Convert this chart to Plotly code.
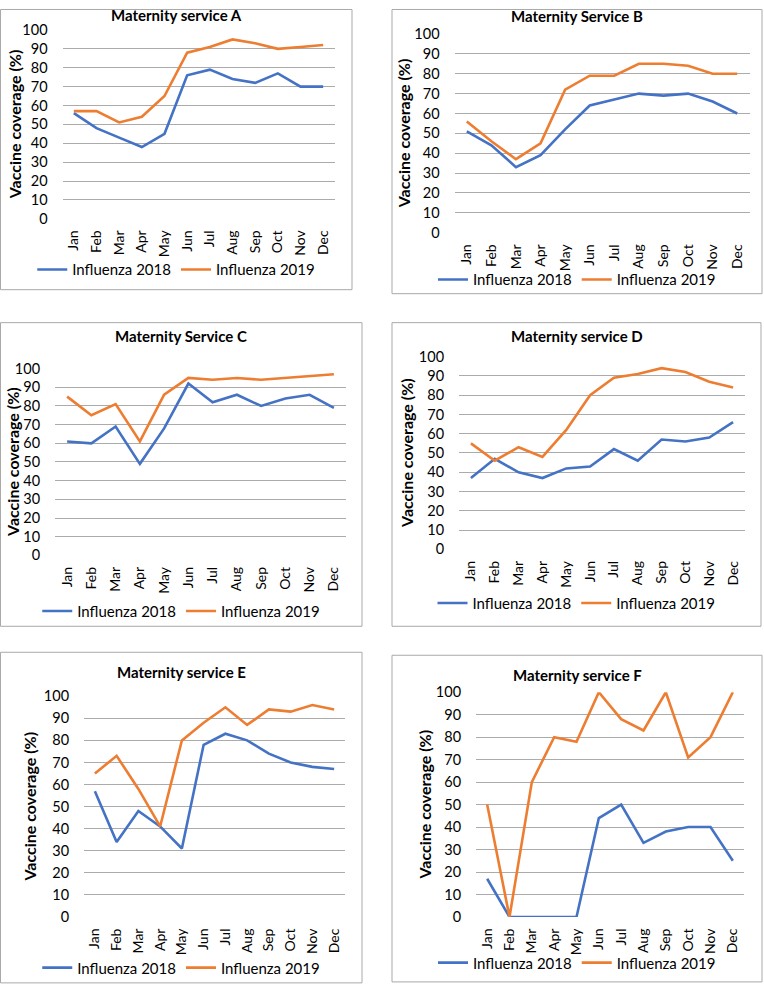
import plotly.graph_objects as go

W, H = 764, 993

months = ["Jan", "Feb", "Mar", "Apr", "May", "Jun", "Jul", "Aug", "Sep", "Oct", "Nov", "Dec"]
y_ticks = [0, 10, 20, 30, 40, 50, 60, 70, 80, 90, 100]
series_names = ["Influenza 2018", "Influenza 2019"]

titles = ["Maternity service A", "Maternity Service B", "Maternity Service C",
          "Maternity service D", "Maternity service E", "Maternity service F"]

a_2018 = [56, 48, 43, 38, 45, 76, 79, 74, 72, 77, 70, 70]
a_2019 = [57, 57, 51, 54, 65, 88, 91, 95, 93, 90, 91, 92]
b_2018 = [51, 44, 33, 39, 52, 64, 67, 70, 69, 70, 66, 60]
b_2019 = [56, 46, 37, 45, 72, 79, 79, 85, 85, 84, 80, 80]
c_2018 = [61, 60, 69, 49, 68, 92, 82, 86, 80, 84, 86, 79]
c_2019 = [85, 75, 81, 61, 86, 95, 94, 95, 94, 95, 96, 97]
d_2018 = [37, 47, 40, 37, 42, 43, 52, 46, 57, 56, 58, 66]
d_2019 = [55, 46, 53, 48, 62, 80, 89, 91, 94, 92, 87, 84]
e_2018 = [57, 34, 48, 41, 31, 78, 83, 80, 74, 70, 68, 67]
e_2019 = [65, 73, 58, 41, 80, 88, 95, 87, 94, 93, 96, 94]
f_2018 = [17, 0, 0, 0, 0, 44, 50, 33, 38, 40, 40, 25]
f_2019 = [50, 0, 60, 80, 78, 100, 88, 83, 100, 71, 80, 100]

data_2018 = [a_2018, b_2018, c_2018, d_2018, e_2018, f_2018]
data_2019 = [a_2019, b_2019, c_2019, d_2019, e_2019, f_2019]

BLUE = "#4472C4"
ORANGE = "#ED7D31"
FONT = "Lato"

# layout in target pixels: panel border box, plot area (x0,x1,y_top,y_bottom), title y, legend y, ytitle x
panels = [
    dict(box=(0.5, 0.5, 352, 289), plot=(62.5, 334.5, 29, 218), ty=14, ly=269, ax=14),
    dict(box=(392, 0.5, 762, 293), plot=(454.5, 749.5, 33, 232), ty=15, ly=279, ax=403),
    dict(box=(0.5, 322, 362, 626), plot=(55, 346, 368, 555), ty=335, ly=611, ax=13),
    dict(box=(392, 322, 761, 626), plot=(459, 745, 356, 549), ty=335, ly=603, ax=407),
    dict(box=(0.5, 652, 362, 983), plot=(84, 345, 696, 917), ty=672, ly=968, ax=30),
    dict(box=(392, 655, 762, 982), plot=(476, 744, 692, 917), ty=675, ly=963, ax=425),
]

def px(x):
    return x / W

def py(y):
    # compensate the vertical framing of the photographed page
    yf = max((y - 8) / 0.984, 0.5)
    return 1 - yf / H

fig = go.Figure()
shapes = []
annotations = []
layout_extra = {}

for i, p in enumerate(panels):
    n = "" if i == 0 else str(i + 1)
    xa, ya = "x" + n, "y" + n
    leg = "legend" + n
    for name, vals, col in [(series_names[0], data_2018[i], BLUE), (series_names[1], data_2019[i], ORANGE)]:
        fig.add_trace(go.Scatter(
            x=months, y=vals, name=name, mode="lines",
            line=dict(color=col, width=2.6),
            xaxis=xa, yaxis=ya, legend=leg, hoverinfo="skip",
        ))
    x0, x1, yt, yb = p["plot"]
    layout_extra["xaxis" + n] = dict(
        domain=[px(x0), px(x1)], anchor=ya, type="category",
        categoryorder="array", categoryarray=months,
        range=[-0.5, 11.5], showgrid=False, zeroline=False, showline=False,
        tickangle=-90, ticks="outside", ticklen=5, tickcolor="rgba(0,0,0,0)",
        tickfont=dict(family=FONT, size=14, color="#000"),
        fixedrange=True,
    )
    layout_extra["yaxis" + n] = dict(
        domain=[py(yb), py(yt)], anchor=xa, range=[0, 100],
        tickvals=y_ticks, showgrid=True, gridcolor="#ABABAB", gridwidth=1,
        zeroline=False, showline=False,
        ticks="outside", ticklen=11, tickcolor="rgba(0,0,0,0)",
        tickfont=dict(family=FONT, size=14.5, color="#000"),
        fixedrange=True,
    )
    bx0, by0, bx1, by1 = p["box"]
    layout_extra[leg] = dict(
        orientation="h", x=px((bx0 + bx1) / 2), xanchor="center",
        y=py(p["ly"]), yanchor="middle", bgcolor="rgba(0,0,0,0)",
        font=dict(family=FONT, size=15, color="#000"),
        itemwidth=30, tracegroupgap=0,
    )
    shapes.append(dict(type="rect", xref="paper", yref="paper",
                       x0=px(bx0), x1=px(bx1), y0=py(by1), y1=py(by0),
                       line=dict(color="#A9A9A9", width=1), layer="below"))
    annotations.append(dict(text="<b>" + titles[i] + "</b>", xref="paper", yref="paper",
                            x=px((bx0 + bx1) / 2), y=py(p["ty"]), xanchor="center", yanchor="middle",
                            showarrow=False, font=dict(family=FONT, size=15, color="#000")))
    annotations.append(dict(text="<b>Vaccine coverage (%)</b>", xref="paper", yref="paper",
                            x=px(p["ax"]), y=py((yt + yb) / 2), xanchor="center", yanchor="middle",
                            textangle=-90, showarrow=False,
                            font=dict(family=FONT, size=16, color="#000")))

fig.update_layout(
    width=W, height=H, margin=dict(l=0, r=0, t=0, b=0),
    paper_bgcolor="white", plot_bgcolor="white",
    shapes=shapes, annotations=annotations, showlegend=True,
    **layout_extra,
)

fig.write_html("out.html", config={"displayModeBar": False},
               post_script="document.body.style.margin='0';document.documentElement.style.overflow='hidden';")
